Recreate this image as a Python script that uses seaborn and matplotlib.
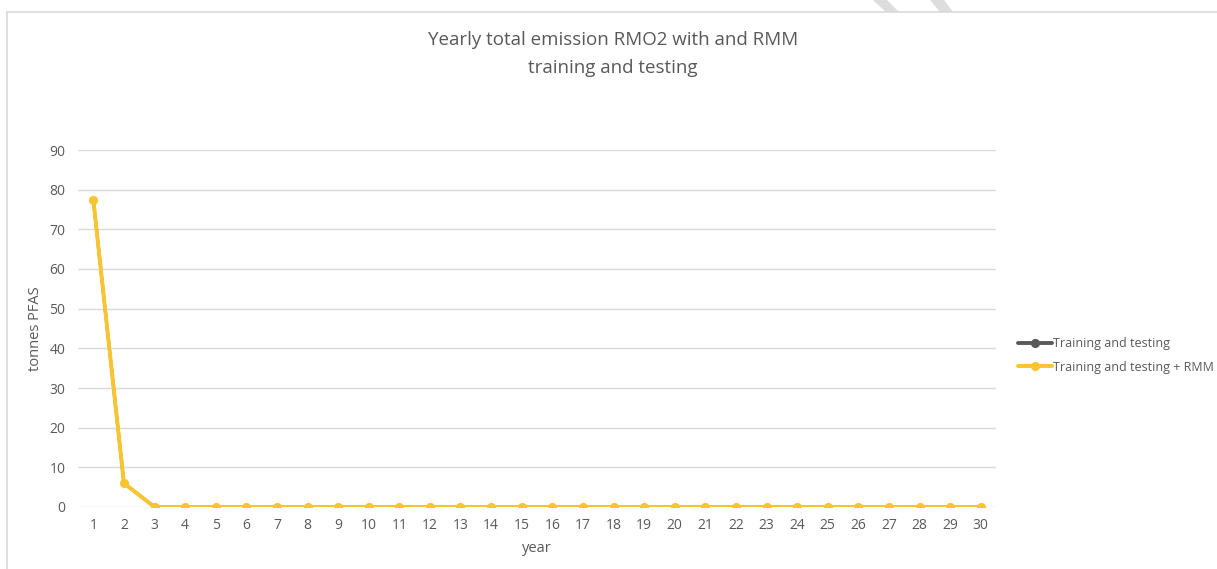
import matplotlib
matplotlib.use("Agg")
import matplotlib.pyplot as plt
from matplotlib.patches import Polygon
from matplotlib.lines import Line2D
import numpy as np
import pandas as pd
import seaborn as sns

# Data
years = list(range(1, 31))
training_testing = [77.5, 6.0] + [0.0] * 28
training_testing_rmm = [77.5, 6.0] + [0.0] * 28
series_names = ["Training and testing", "Training and testing + RMM"]
y_ticks = [0, 10, 20, 30, 40, 50, 60, 70, 80, 90]

df = pd.concat([
    pd.DataFrame({"year": years, "value": training_testing, "series": series_names[0]}),
    pd.DataFrame({"year": years, "value": training_testing_rmm, "series": series_names[1]}),
])

sns.set_theme(style="white")
plt.rcParams["font.family"] = ["Open Sans", "DejaVu Sans"]

W, H = 1217, 569
fig = plt.figure(figsize=(W / 100, H / 100), dpi=100)
ax = fig.add_axes([78 / W, (H - 507) / H, (996 - 78) / W, (507 - 150) / H])

text_col = "#595959"
palette = {series_names[0]: "#595959", series_names[1]: "#F8C430"}
widths = {series_names[0]: 2.2, series_names[1]: 2.8}
msizes = {series_names[0]: 5.2, series_names[1]: 6.6}

# The grey series sits underneath the yellow one with identical values
for name in series_names:
    sub = df[df["series"] == name]
    sns.lineplot(data=sub, x="year", y="value", color=palette[name],
                 marker="o", markersize=msizes[name], markeredgewidth=0,
                 linewidth=widths[name], ax=ax, legend=False, sort=False)

ax.set_xlim(0.5, 30.5)
ax.set_ylim(0, 90)
ax.set_xticks(years)
ax.set_xticklabels([str(y) for y in years])
ax.set_yticks(y_ticks)
ax.grid(axis="y", color="#D9D9D9", linewidth=1.0)
ax.grid(axis="x", visible=False)
for s in ax.spines.values():
    s.set_visible(False)
ax.tick_params(axis="both", length=0, labelsize=10, colors=text_col)
ax.tick_params(axis="x", pad=8)
ax.tick_params(axis="y", pad=9)
ax.set_axisbelow(True)
ax.set_xlabel("year", fontsize=10.5, color=text_col, labelpad=6)
ax.set_ylabel("tonnes PFAS", fontsize=10.5, color=text_col, labelpad=5)

fig.text(613 / W, 1 - 40 / H, "Yearly total emission RMO2 with and RMM",
         ha="center", va="center", fontsize=13.5, color=text_col)
fig.text(613 / W, 1 - 68 / H, "training and testing",
         ha="center", va="center", fontsize=13.5, color=text_col)

# Legend
handles = [Line2D([], [], color=palette[n], marker="o", markersize=6.6,
                  markeredgewidth=0, linewidth=2.8) for n in series_names]
fig.legend(handles, series_names, loc="center left",
           bbox_to_anchor=(1007 / W, 1 - 355.5 / H), frameon=False,
           fontsize=9.0, labelcolor=text_col, handlelength=2.7,
           handletextpad=0.1, labelspacing=0.85)

# Outer chart frame
fig.add_artist(Line2D([7 / W, 1], [1 - 12 / H, 1 - 12 / H], color="#D9D9D9", linewidth=1.2))
fig.add_artist(Line2D([7 / W, 7 / W], [0, 1 - 12 / H], color="#D9D9D9", linewidth=1.2))

# Faint diagonal strokes crossing the top edge
for xt, xb in ((873, 886), (930, 940)):
    pts = [(xt / W, 1), ((xt + 14) / W, 1), ((xb + 13) / W, 1 - 12 / H), (xb / W, 1 - 12 / H)]
    fig.add_artist(Polygon(pts, closed=True, facecolor="#DDDDDD", edgecolor="none"))

fig.savefig("out.png", dpi=100, facecolor="white")
